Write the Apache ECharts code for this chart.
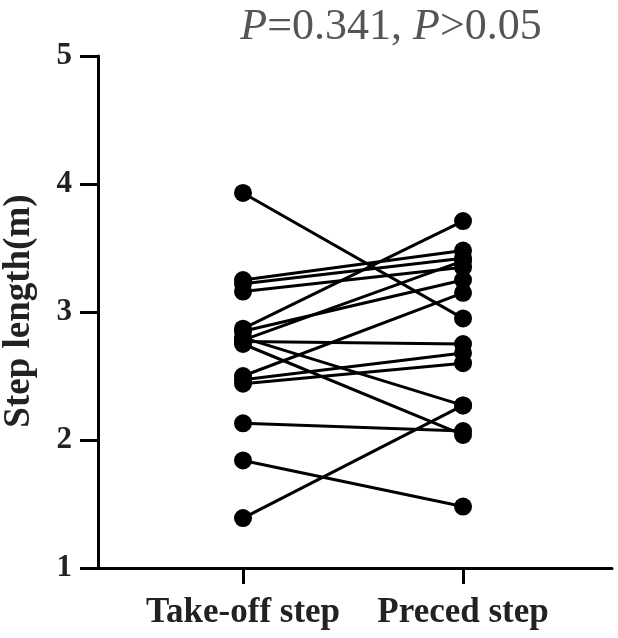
<!DOCTYPE html>
<html>
<head>
<meta charset="utf-8">
<script src="https://cdn.jsdelivr.net/npm/echarts@6/dist/echarts.min.js"></script>
<style>html,body{margin:0;padding:0;background:#fff}#c{width:618px;height:638px}</style>
</head>
<body>
<div id="c"></div>
<script>
var categories = ['Take-off step', 'Preced step'];
var takeoffStep = [3.93, 3.25, 3.22, 3.16, 2.87, 2.85, 2.80, 2.77, 2.75, 2.50, 2.47, 2.44, 2.13, 1.84, 1.39, 2.78];
var precedStep  = [2.95, 3.48, 3.42, 3.35, 3.71, 3.25, 2.27, 2.75, 2.04, 3.15, 2.68, 2.60, 2.07, 1.48, 2.27, 3.40];
var yTicks = [1, 2, 3, 4, 5];
var yAxisName = 'Step length(m)';
var titleP = '0.341';
var titleAlpha = '0.05';

var FONT = '"Liberation Serif", "Times New Roman", serif';
var series = takeoffStep.map(function (v, i) {
  return {
    type: 'line',
    data: [[0, v], [1, precedStep[i]]],
    symbol: 'circle',
    symbolSize: 18,
    lineStyle: { color: '#000', width: 3 },
    itemStyle: { color: '#000' },
    animation: false,
    silent: true
  };
});

var chart = echarts.init(document.getElementById('c'), null, { renderer: 'canvas' });
chart.setOption({
  backgroundColor: '#fff',
  animation: false,
  title: {
    text: '{i|P}{n|=' + titleP + ', }{i|P}{n|>' + titleAlpha + '}',
    left: 386, top: 0, textAlign: 'center',
    textStyle: {
      fontWeight: 'normal',
      rich: {
        i: { fontFamily: FONT, fontStyle: 'italic', fontWeight: 'normal', fontSize: 44, color: '#555' },
        n: { fontFamily: FONT, fontWeight: 'normal', fontSize: 44, color: '#555' }
      }
    }
  },
  graphic: [{
    type: 'text',
    x: 19, y: 311,
    rotation: Math.PI / 2,
    style: {
      text: yAxisName,
      fontFamily: FONT, fontWeight: 'bold', fontSize: 37, fill: '#222',
      align: 'center', verticalAlign: 'middle'
    }
  }],
  grid: { left: 98, right: 6, top: 56, bottom: 70, containLabel: false },
  xAxis: {
    type: 'value',
    min: -0.659, max: 1.677,
    splitLine: { show: false },
    axisLine: { show: true, onZero: false, lineStyle: { color: '#000', width: 3 } },
    axisTick: { show: true, customValues: [0, 1], length: 16, lineStyle: { color: '#000', width: 3 } },
    axisLabel: {
      customValues: [0, 1],
      formatter: function (v) { return categories[Math.round(v)]; },
      fontFamily: FONT, fontWeight: 'bold', fontSize: 35, color: '#222', margin: 27
    }
  },
  yAxis: {
    type: 'value',
    min: 1, max: 5, interval: 1,
    data: yTicks,
    splitLine: { show: false },
    axisLine: { show: true, onZero: false, lineStyle: { color: '#000', width: 3 } },
    axisTick: { show: true, length: 18, lineStyle: { color: '#000', width: 3 } },
    axisLabel: { fontFamily: FONT, fontWeight: 'bold', fontSize: 31, color: '#222', margin: 26 }
  },
  series: series
});
</script>
</body>
</html>
